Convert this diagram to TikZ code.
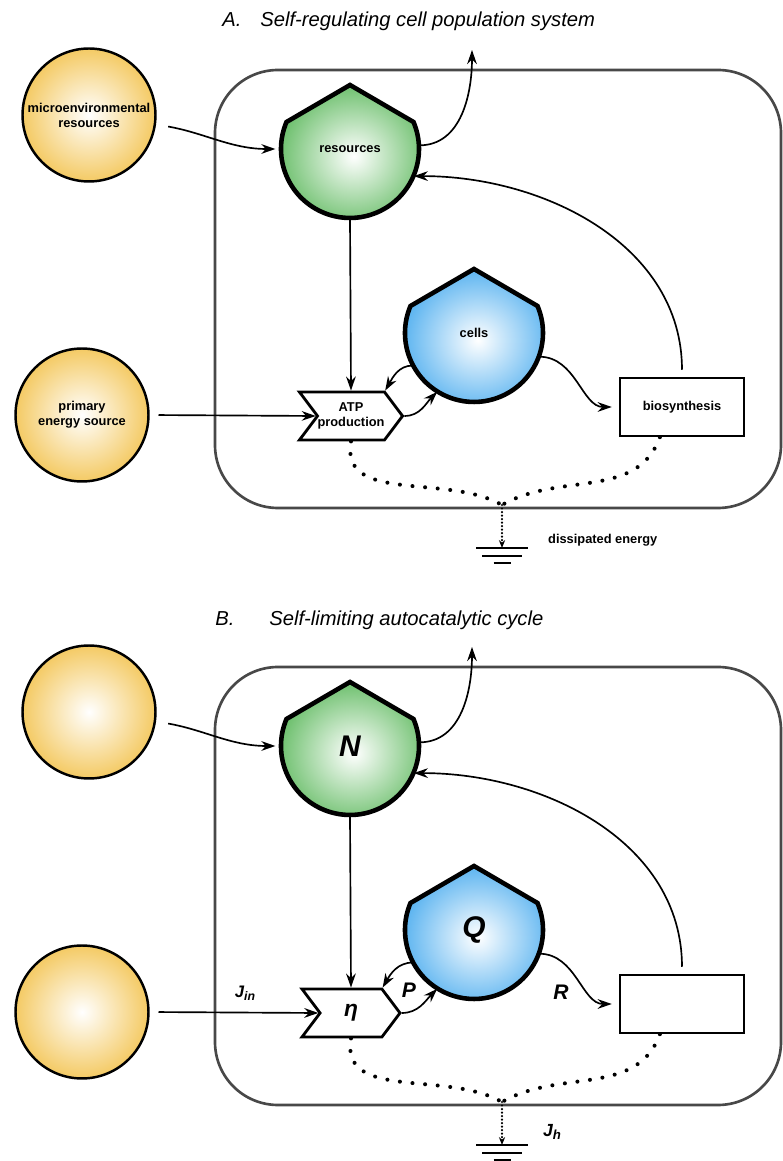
\documentclass[tikz,border=0pt]{standalone}
\usepackage{fontspec}
\setmainfont{Liberation Sans}
\usetikzlibrary{shapes.symbols,arrows.meta,calc}

\definecolor{resgreen}{RGB}{110,192,110}
\definecolor{cellblue}{RGB}{92,180,240}
\definecolor{srcyellow}{RGB}{244,202,100}
\definecolor{boxgray}{RGB}{72,72,72}

\tikzset{
  lbl/.style={font=\bfseries\fontsize{7.3}{8.6}\selectfont, align=center},
  source/.style={circle, draw, line width=1.4pt, minimum size=2.66cm, inner sep=0pt,
    inner color=white, outer color=srcyellow, lbl},
  pool/.style={circle, minimum size=2.76cm, inner sep=0pt, lbl},
  shieldline/.style={draw, line width=2.6pt, line join=miter},
  atpbox/.style={signal, signal from=west, signal to=east, signal pointer angle=106,
    draw, line width=1.6pt, fill=white, minimum width=1.96cm, minimum height=0.96cm,
    inner sep=0pt, lbl},
  biobox/.style={rectangle, draw, line width=1.4pt, fill=white,
    minimum width=2.48cm, minimum height=1.16cm, lbl},
  flow/.style={-{Stealth[length=8pt,width=5.5pt]}, line width=0.95pt},
  heat/.style={line width=2.3pt, line cap=round, dash pattern=on 0pt off 7.2pt},
  drain/.style={-{Stealth[length=4.5pt,width=3.5pt]}, line width=1.4pt, line cap=round,
    dash pattern=on 0pt off 2pt},
  cellbox/.style={draw=boxgray, line width=1.5pt, rounded corners=1.26cm},
  heading/.style={font=\itshape\fontsize{11.5}{13}\selectfont, anchor=base west, inner sep=0pt},
  sym/.style={font=\bfseries\itshape\fontsize{12}{12}\selectfont, inner sep=0pt},
}

\newcommand\shield[2]{%
  \path[shieldline, inner color=white, outer color=#2, shift={#1}]
    (0,64) -- (63.5,27) arc[start angle=23, end angle=-203, radius=69] -- cycle;}

\newcommand\cellsystem[8]{%
\begin{scope}[shift={(0,#2)}]
  \draw[cellbox] (215,653) rectangle (781,1091);
  \node[source] (#1-env) at (89,1046) {#3};
  \node[source] (#1-prim) at (82,746) {#4};
  \shield{(350,1012)}{resgreen}
  \node[pool] (#1-res) at (350,1012) {#5};
  \shield{(474,828)}{cellblue}
  \node[pool] (#1-cells) at (474,828) {#6};
  \node[atpbox] (#1-atp) at (351,745) {#7};
  \node[biobox] (#1-bio) at (682,754) {#8};
  \coordinate (#1-out) at (472,1111);
  \coordinate (#1-sink) at (502,656);
  \coordinate (#1-gnd) at (502,613);
  \draw[flow, shorten <=7pt, shorten >=3pt] (#1-env.-8) to[out=-10,in=180] (#1-res.west);
  \draw[flow] (#1-res.3) to[out=0,in=-90] (#1-out);
  \draw[flow] (#1-res.south) -- (#1-atp.north);
  \draw[flow, shorten <=5pt] (#1-prim.east) -- (#1-atp.west);
  \draw[flow] (#1-cells.208) to[out=180,in=60] (#1-atp.north east);
  \draw[flow] (#1-atp.east) to[out=0,in=-135] (#1-cells.-122);
  \draw[flow, shorten >=4pt] (#1-cells.-20) to[out=0,in=180] (#1-bio.west);
  \draw[flow, shorten <=4pt] (#1-bio.north) to[out=90,in=0] (#1-res.-23);
  \draw[heat] (#1-atp.south) to[out=-100,in=150] (#1-sink);
  \draw[heat] ($(#1-bio.south)!0.35!(#1-bio.south west)$) to[out=-110,in=30] (#1-sink);
  \draw[drain] (#1-sink) -- (#1-gnd);
  \draw[line width=1.3pt] ($(#1-gnd)+(-26,0)$) -- ++(52,0)
    ($(#1-gnd)+(-20,-8)$) -- ++(40,0)
    ($(#1-gnd)+(-8.5,-15)$) -- ++(17,0);
\end{scope}}

\begin{document}
\begin{tikzpicture}[x=0.02cm, y=0.02cm]
\useasboundingbox (0,0) rectangle (783,1161);

\node[heading] (a-tag) at (222,1134) {A.};
\node[heading] (a-title) at (260,1134) {Self-regulating cell population system};
\cellsystem{a}{0}{microenvironmental\\resources}{primary\\energy source}{resources}{cells}
  {ATP\\production}{biosynthesis}
\node[lbl, anchor=west] (a-diss) at (542,621) {dissipated energy};

\node[heading] (b-tag) at (215,535) {B.};
\node[heading] (b-title) at (269,535) {Self-limiting autocatalytic cycle};
\cellsystem{b}{-597}{}{}{\fontsize{17}{17}\selectfont\itshape N}{\fontsize{17}{17}\selectfont\itshape Q}
  {\fontsize{13}{13}\selectfont\itshape η}{}
\node[sym] (b-p) at (409,171) {P};
\node[sym] (b-r) at (561,169) {R};
\node[sym, font=\bfseries\itshape\fontsize{9.5}{9.5}\selectfont] (b-jin) at (245,168)
  {J\raisebox{-1.5pt}{\fontsize{7}{7}\selectfont in}};
\node[sym, font=\bfseries\itshape\fontsize{10}{10}\selectfont] (b-jh) at (552,29)
  {J\raisebox{-1.5pt}{\fontsize{7.5}{7.5}\selectfont h}};
\end{tikzpicture}
\end{document}
